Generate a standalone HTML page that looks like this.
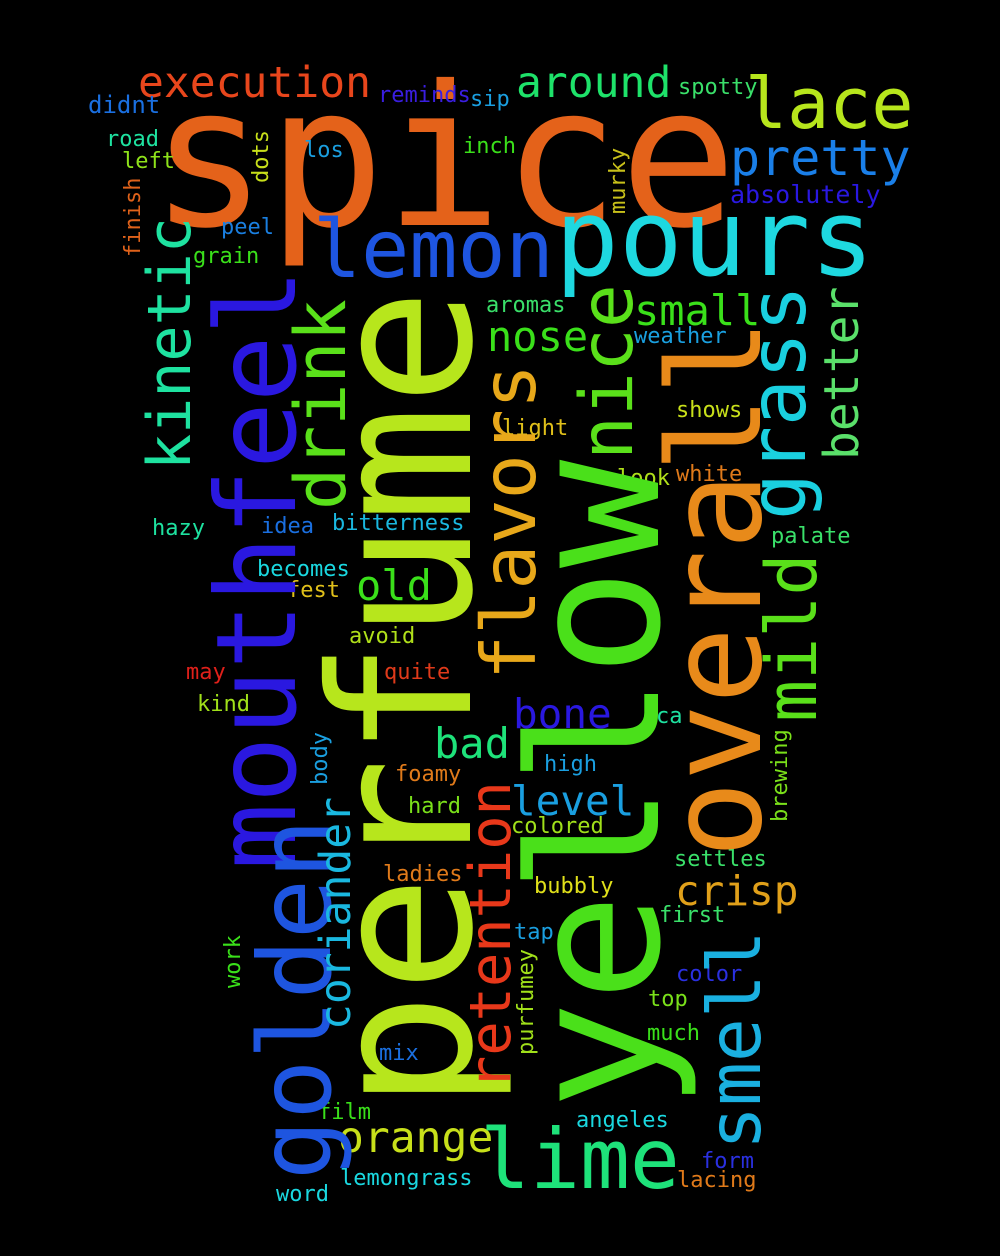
<!DOCTYPE html>
<html><head><meta charset="utf-8"><style>
html,body{margin:0;padding:0;background:#000;}
svg{display:block;}
text{font-family:"DejaVu Sans Mono","Liberation Mono",monospace;}
</style></head><body>
<svg id="cloud" width="1000" height="1256" viewBox="0 0 1000 1256">
<rect width="1000" height="1256" fill="#000"/>
</svg>
<script>
// words: [text, x, y, size, color, vertical]
const words = [
["spice",150,225,195,"#e4621a",0],
["execution",138,97,43,"#e8461c",0],
["around",516,97,43,"#1ee26a",0],
["lace",745,128,70,"#b7e61c",0],
["pretty",730,175,50,"#1a7fe8",0],
["lemon",313,277,80,"#1e55e0",0],
["pours",555,275,106,"#1ed8e0",0],
["absolutely",730,203,25,"#2a18e0",0],
["didnt",88,113,24,"#1a6fe0",0],
["reminds",378,102,22,"#3a1ee0",0],
["sip",470,106,22,"#1a9fe0",0],
["spotty",678,94,22,"#3ae06a",0],
["road",106,146,22,"#1ee2a0",0],
["left",122,168,22,"#8ee21a",0],
["los",304,157,22,"#1a9fe0",0],
["inch",463,153,22,"#3ae01a",0],
["peel",221,234,22,"#1a7fe0",0],
["grain",193,263,22,"#3ae01a",0],
["small",634,325,42,"#3ae01a",0],
["aromas",486,312,22,"#3ae06a",0],
["nose",487,351,42,"#3ae01a",0],
["weather",634,343,22,"#1aa0e0",0],
["shows",676,417,22,"#c8e01a",0],
["light",502,435,22,"#e0c01a",0],
["look",617,485,22,"#b0e01a",0],
["white",676,481,22,"#e07a1a",0],
["hazy",152,535,22,"#1ee2a0",0],
["idea",261,533,22,"#1a6fe0",0],
["bitterness",332,530,22,"#1ab8e0",0],
["palate",771,543,22,"#3ae06a",0],
["becomes",257,576,22,"#1ad8e0",0],
["fest",287,597,22,"#e0c01a",0],
["old",356,600,42,"#3ae01a",0],
["avoid",349,643,22,"#b0e01a",0],
["may",186,679,22,"#e0201a",0],
["quite",384,679,22,"#e03a1a",0],
["kind",197,711,22,"#a0e01a",0],
["bone",513,728,41,"#2a18e0",0],
["ca",656,723,22,"#1ee2a0",0],
["bad",434,758,42,"#1ee27a",0],
["high",544,771,22,"#1a9fe0",0],
["level",511,815,41,"#1a9fe0",0],
["foamy",395,781,22,"#e07a1a",0],
["hard",408,813,22,"#7ae01a",0],
["colored",511,833,22,"#a0e01a",0],
["settles",674,866,22,"#3ae06a",0],
["ladies",383,881,22,"#e07a1a",0],
["crisp",675,905,41,"#e0a01a",0],
["bubbly",534,893,22,"#e0e01a",0],
["first",659,922,22,"#3ae06a",0],
["tap",514,939,22,"#1a9fe0",0],
["color",676,981,22,"#2a30e0",0],
["top",648,1006,22,"#7ae01a",0],
["much",647,1040,22,"#3ae01a",0],
["mix",379,1060,22,"#1a6fe0",0],
["orange",338,1152,43,"#c8e01a",0],
["lime",480,1188,83,"#1ee27a",0],
["film",318,1119,22,"#3ae01a",0],
["angeles",576,1127,22,"#1ad8e0",0],
["form",701,1168,22,"#2a30e0",0],
["lacing",677,1187,22,"#e07a1a",0],
["lemongrass",340,1185,22,"#1ad8e0",0],
["word",276,1201,22,"#1ad8e0",0],
["perfume",470,1110,195,"#b7e61c",1],
["yellow",658,1110,180,"#4ae01a",1],
["overall",760,858,128,"#e88a1a",1],
["mouthfeel",295,870,111,"#2a18e0",1],
["golden",330,1180,100,"#1e55e0",1],
["kinetic",190,470,60,"#1ee2a0",1],
["drink",345,510,70,"#5ae01a",1],
["flavors",535,680,75,"#e8a81a",1],
["nice",632,460,73,"#5ae01a",1],
["grass",805,520,78,"#1ad0e0",1],
["better",858,460,48,"#5ae06a",1],
["mild",816,722,70,"#5ae01a",1],
["retention",510,1090,57,"#e8381a",1],
["coriander",350,1030,43,"#1ab8e0",1],
["smell",760,1150,73,"#1ab0e0",1],
["murky",625,214,22,"#c8c01a",1],
["dots",268,183,22,"#c8e01a",1],
["finish",140,257,22,"#e0621a",1],
["body",327,785,22,"#1a9fe0",1],
["brewing",787,822,22,"#7ae01a",1],
["work",240,988,22,"#3ae01a",1],
["purfumey",533,1055,22,"#a0e01a",1]
];
const svg=document.getElementById('cloud');
const NS="http://www.w3.org/2000/svg";
for(const w of words){
  const t=document.createElementNS(NS,'text');
  t.textContent=w[0];
  t.setAttribute('font-size',w[3]);
  t.setAttribute('fill',w[4]);
  t.setAttribute('transform','translate('+w[1]+','+w[2]+')'+(w[5]?' rotate(-90)':''));
  
  
  svg.appendChild(t);
}
</script>
</body></html>
